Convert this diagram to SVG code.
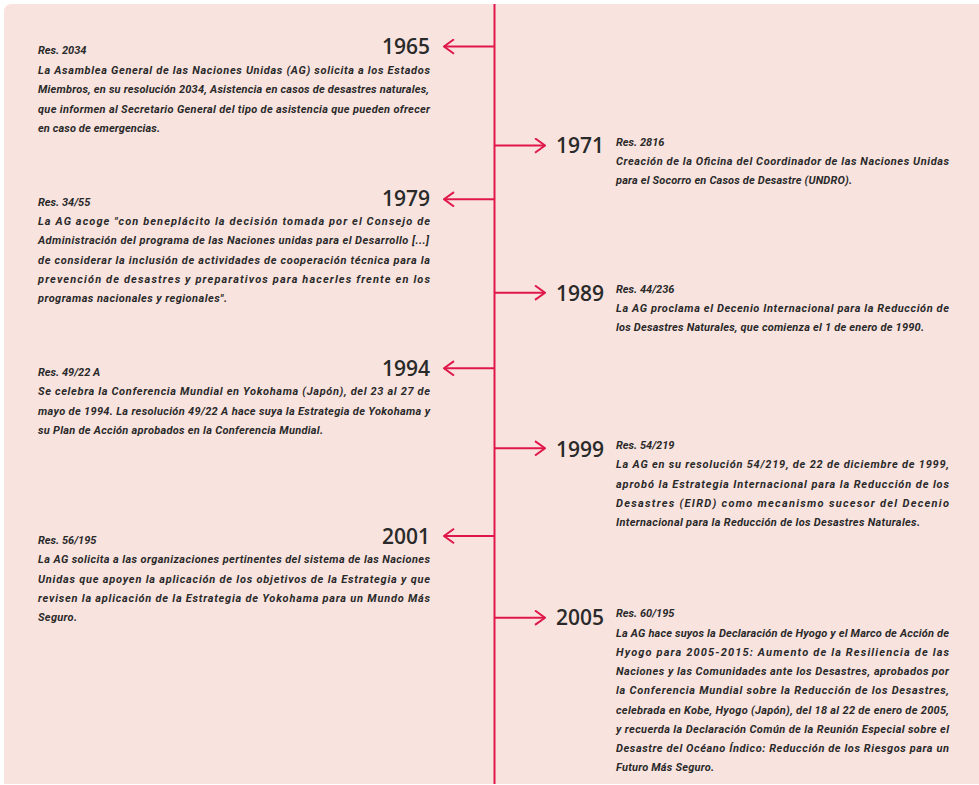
<svg xmlns="http://www.w3.org/2000/svg" width="979" height="785" viewBox="0 0 979 785">
<style>
.bg{fill:#f9e3df}
.ln{stroke:#e0184a;stroke-width:2;fill:none}
.yr{font-family:"Open Sans",Roboto,"Liberation Sans",sans-serif;font-size:21px;font-weight:600;fill:#2a2a2a}
.res{font-family:Roboto,"Noto Sans","Liberation Sans",sans-serif;font-size:11px;font-weight:700;font-style:italic;fill:#2a2a2a}
.bd{font-family:Roboto,"Noto Sans","Liberation Sans",sans-serif;font-size:11px;font-weight:700;font-style:italic;fill:#2a2a2a}
</style>
<defs>
<marker id="ah" viewBox="0 0 12 16" refX="11" refY="8" markerWidth="12" markerHeight="16" markerUnits="userSpaceOnUse" orient="auto">
<path d="M1,0.8 L11,8 L1,15.2" fill="none" stroke="#e0184a" stroke-width="2"/>
</marker>
</defs>
<path class="bg" d="M12,4 H979 V784 H4 V12 Q4,4 12,4 Z"/>
<g id="connectors">
<line class="ln" x1="494.5" y1="4" x2="494.5" y2="784"/>
<line class="ln" x1="494.5" y1="46.5" x2="444" y2="46.5" marker-end="url(#ah)"/>
<line class="ln" x1="494.5" y1="199.3" x2="444" y2="199.3" marker-end="url(#ah)"/>
<line class="ln" x1="494.5" y1="368.3" x2="444" y2="368.3" marker-end="url(#ah)"/>
<line class="ln" x1="494.5" y1="536" x2="444" y2="536" marker-end="url(#ah)"/>
<line class="ln" x1="494.5" y1="145.5" x2="545" y2="145.5" marker-end="url(#ah)"/>
<line class="ln" x1="494.5" y1="292.7" x2="545" y2="292.7" marker-end="url(#ah)"/>
<line class="ln" x1="494.5" y1="448.3" x2="545" y2="448.3" marker-end="url(#ah)"/>
<line class="ln" x1="494.5" y1="617.7" x2="545" y2="617.7" marker-end="url(#ah)"/>
</g>
<g id="n1965">
<text class="yr" x="430" y="54" text-anchor="end">1965</text>
<text class="res" x="38" y="54">Res. 2034</text>
<text class="bd" x="38" y="74" textLength="392" lengthAdjust="spacing">La Asamblea General de las Naciones Unidas (AG) solicita a los Estados</text>
<text class="bd" x="38" y="93.3" textLength="391" lengthAdjust="spacing">Miembros, en su resolución 2034, Asistencia en casos de desastres naturales,</text>
<text class="bd" x="38" y="112.6" textLength="392" lengthAdjust="spacing">que informen al Secretario General del tipo de asistencia que pueden ofrecer</text>
<text class="bd" x="38" y="131.9" textLength="122" lengthAdjust="spacing">en caso de emergencias.</text>
</g>
<g id="n1979">
<text class="yr" x="430" y="206" text-anchor="end">1979</text>
<text class="res" x="38" y="206">Res. 34/55</text>
<text class="bd" x="38" y="225" textLength="392" lengthAdjust="spacing">La AG acoge "con beneplácito la decisión tomada por el Consejo de</text>
<text class="bd" x="38" y="244.3" textLength="391" lengthAdjust="spacing">Administración del programa de las Naciones unidas para el Desarrollo [...]</text>
<text class="bd" x="38" y="263.6" textLength="392" lengthAdjust="spacing">de considerar la inclusión de actividades de cooperación técnica para la</text>
<text class="bd" x="38" y="282.9" textLength="392" lengthAdjust="spacing">prevención de desastres y preparativos para hacerles frente en los</text>
<text class="bd" x="38" y="302.2" textLength="189" lengthAdjust="spacing">programas nacionales y regionales".</text>
</g>
<g id="n1994">
<text class="yr" x="430" y="376" text-anchor="end">1994</text>
<text class="res" x="38" y="376">Res. 49/22 A</text>
<text class="bd" x="38" y="395.3" textLength="392" lengthAdjust="spacing">Se celebra la Conferencia Mundial en Yokohama (Japón), del 23 al 27 de</text>
<text class="bd" x="38" y="414.5" textLength="392" lengthAdjust="spacing">mayo de 1994. La resolución 49/22 A hace suya la Estrategia de Yokohama y</text>
<text class="bd" x="38" y="433.7" textLength="285" lengthAdjust="spacing">su Plan de Acción aprobados en la Conferencia Mundial.</text>
</g>
<g id="n2001">
<text class="yr" x="430" y="543.5" text-anchor="end">2001</text>
<text class="res" x="38" y="544">Res. 56/195</text>
<text class="bd" x="38" y="563.3" textLength="392" lengthAdjust="spacing">La AG solicita a las organizaciones pertinentes del sistema de las Naciones</text>
<text class="bd" x="38" y="582.6" textLength="392" lengthAdjust="spacing">Unidas que apoyen la aplicación de los objetivos de la Estrategia y que</text>
<text class="bd" x="38" y="601.9" textLength="392" lengthAdjust="spacing">revisen la aplicación de la Estrategia de Yokohama para un Mundo Más</text>
<text class="bd" x="38" y="621.2" textLength="39" lengthAdjust="spacing">Seguro.</text>
</g>
<g id="n1971">
<text class="yr" x="556" y="153.3">1971</text>
<text class="res" x="616" y="146">Res. 2816</text>
<text class="bd" x="616" y="165.2" textLength="333" lengthAdjust="spacing">Creación de la Oficina del Coordinador de las Naciones Unidas</text>
<text class="bd" x="616" y="184.4" textLength="236" lengthAdjust="spacing">para el Socorro en Casos de Desastre (UNDRO).</text>
</g>
<g id="n1989">
<text class="yr" x="556" y="301">1989</text>
<text class="res" x="616" y="292.7">Res. 44/236</text>
<text class="bd" x="616" y="312" textLength="333" lengthAdjust="spacing">La AG proclama el Decenio Internacional para la Reducción de</text>
<text class="bd" x="616" y="331.2" textLength="308" lengthAdjust="spacing">los Desastres Naturales, que comienza el 1 de enero de 1990.</text>
</g>
<g id="n1999">
<text class="yr" x="556" y="456.7">1999</text>
<text class="res" x="616" y="449">Res. 54/219</text>
<text class="bd" x="616" y="468.3" textLength="333" lengthAdjust="spacing">La AG en su resolución 54/219, de 22 de diciembre de 1999,</text>
<text class="bd" x="616" y="487.6" textLength="333" lengthAdjust="spacing">aprobó la Estrategia Internacional para la Reducción de los</text>
<text class="bd" x="616" y="506.9" textLength="333" lengthAdjust="spacing">Desastres (EIRD) como mecanismo sucesor del Decenio</text>
<text class="bd" x="616" y="526.2" textLength="304" lengthAdjust="spacing">Internacional para la Reducción de los Desastres Naturales.</text>
</g>
<g id="n2005">
<text class="yr" x="556" y="625">2005</text>
<text class="res" x="616" y="616.7">Res. 60/195</text>
<text class="bd" x="616" y="636.7" textLength="333" lengthAdjust="spacing">La AG hace suyos la Declaración de Hyogo y el Marco de Acción de</text>
<text class="bd" x="616" y="655.9" textLength="333" lengthAdjust="spacing">Hyogo para 2005-2015: Aumento de la Resiliencia de las</text>
<text class="bd" x="616" y="675.1" textLength="333" lengthAdjust="spacing">Naciones y las Comunidades ante los Desastres, aprobados por</text>
<text class="bd" x="616" y="694.3" textLength="333" lengthAdjust="spacing">la Conferencia Mundial sobre la Reducción de los Desastres,</text>
<text class="bd" x="616" y="713.5" textLength="333" lengthAdjust="spacing">celebrada en Kobe, Hyogo (Japón), del 18 al 22 de enero de 2005,</text>
<text class="bd" x="616" y="732.7" textLength="333" lengthAdjust="spacing">y recuerda la Declaración Común de la Reunión Especial sobre el</text>
<text class="bd" x="616" y="751.9" textLength="333" lengthAdjust="spacing">Desastre del Océano Índico: Reducción de los Riesgos para un</text>
<text class="bd" x="616" y="771.1" textLength="98" lengthAdjust="spacing">Futuro Más Seguro.</text>
</g>
</svg>
